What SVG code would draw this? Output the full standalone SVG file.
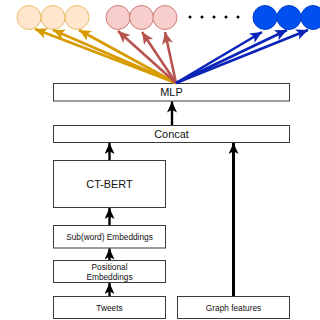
<svg xmlns="http://www.w3.org/2000/svg" width="320" height="320" viewBox="0 0 320 320">
<style>
.box{fill:#fff;stroke:#3a3a3a;stroke-width:1}
.t{font-family:"Liberation Sans",Arial,sans-serif;fill:#111;text-anchor:middle}
.big{font-size:10.9px}
.sm{font-size:8.3px}
.cy{fill:#ffe6cc;stroke:#e8bf6a;stroke-width:1}
.cr{fill:#f8cecc;stroke:#cc7b77;stroke-width:1}
.cb{fill:#0050ef;stroke:#0040d0;stroke-width:1}
.ay{stroke:#d79b00;stroke-width:2.6;fill:none;marker-end:url(#my)}
.ar{stroke:#b85450;stroke-width:2.6;fill:none;marker-end:url(#mr)}
.ab{stroke:#0a24b8;stroke-width:2.6;fill:none;marker-end:url(#mb)}
.ak{stroke:#000;stroke-width:2.4;fill:none;marker-end:url(#mk)}
.ak3{stroke:#000;stroke-width:3;fill:none;marker-end:url(#mk)}
</style>
<defs>
<marker id="my" markerUnits="userSpaceOnUse" markerWidth="14" markerHeight="12" refX="12" refY="5.5" orient="auto"><path d="M0,0 L12,5.5 L0,11 L3,5.5 z" fill="#d79b00"/></marker>
<marker id="mr" markerUnits="userSpaceOnUse" markerWidth="14" markerHeight="12" refX="12" refY="5.5" orient="auto"><path d="M0,0 L12,5.5 L0,11 L3,5.5 z" fill="#b85450"/></marker>
<marker id="mb" markerUnits="userSpaceOnUse" markerWidth="14" markerHeight="12" refX="12" refY="5.5" orient="auto"><path d="M0,0 L12,5.5 L0,11 L3,5.5 z" fill="#0a24b8"/></marker>
<marker id="mk" markerUnits="userSpaceOnUse" markerWidth="14" markerHeight="12" refX="11" refY="5" orient="auto"><path d="M0,0 L11,5 L0,10 L2.8,5 z" fill="#000"/></marker>
</defs>
<g id="outputs">
<circle class="cy" cx="29" cy="17.5" r="12"/>
<circle class="cy" cx="53" cy="17.5" r="12"/>
<circle class="cy" cx="77" cy="17.5" r="12"/>
<circle class="cr" cx="118" cy="17.5" r="12"/>
<circle class="cr" cx="141.5" cy="17.5" r="12"/>
<circle class="cr" cx="165" cy="17.5" r="12"/>
<circle class="cb" cx="265" cy="17.5" r="12"/>
<circle class="cb" cx="289" cy="17.5" r="12"/>
<circle class="cb" cx="313" cy="17.5" r="12"/>
<g fill="#000"><circle cx="190" cy="17" r="1.5"/><circle cx="202" cy="17" r="1.5"/><circle cx="214" cy="17" r="1.5"/><circle cx="226" cy="17" r="1.5"/><circle cx="238" cy="17" r="1.5"/></g>
</g>
<g id="mlp"><rect class="box" x="53.5" y="83.5" width="236" height="17.5"/><text class="t big" x="171.5" y="96">MLP</text></g>
<g id="concat"><rect class="box" x="53.5" y="125.5" width="236" height="17"/><text class="t big" x="171.5" y="138">Concat</text></g>
<g id="ctbert"><rect class="box" x="53.5" y="160.5" width="112" height="47"/><text class="t big" x="109.5" y="188">CT-BERT</text></g>
<g id="subword"><rect class="box" x="53.5" y="225.5" width="112" height="22.5"/><text class="t sm" x="109.5" y="240">Sub(word) Embeddings</text></g>
<g id="positional"><rect class="box" x="53.5" y="260.5" width="112" height="22"/><text class="t sm" x="109.5" y="270">Positional</text><text class="t sm" x="109.5" y="280">Embeddings</text></g>
<g id="tweets"><rect class="box" x="53.5" y="296.5" width="112" height="22"/><text class="t sm" x="109.5" y="310.5">Tweets</text></g>
<g id="graph"><rect class="box" x="177.5" y="296.5" width="112" height="22"/><text class="t sm" x="233.5" y="310.5">Graph features</text></g>
<g id="connectors">
<path class="ay" d="M176,83 L35,29"/>
<path class="ay" d="M176,83 L53,30"/>
<path class="ay" d="M176,83 L79,30"/>
<path class="ar" d="M176,83 L118,31"/>
<path class="ar" d="M176,83 L142,32"/>
<path class="ar" d="M176,83 L165,32"/>
<path class="ab" d="M176,83 L262,32"/>
<path class="ab" d="M176,83 L287,30"/>
<path class="ab" d="M176,83 L308,30"/>
<path class="ak" d="M172,125 L172,101.5"/>
<path class="ak" d="M109.5,160 L109.5,143"/>
<path class="ak" d="M109.5,225 L109.5,208"/>
<path class="ak" d="M109.5,260 L109.5,248.5"/>
<path class="ak" d="M109.5,296 L109.5,283"/>
<path class="ak3" d="M233.5,296 L233.5,143"/>
</g>
</svg>
